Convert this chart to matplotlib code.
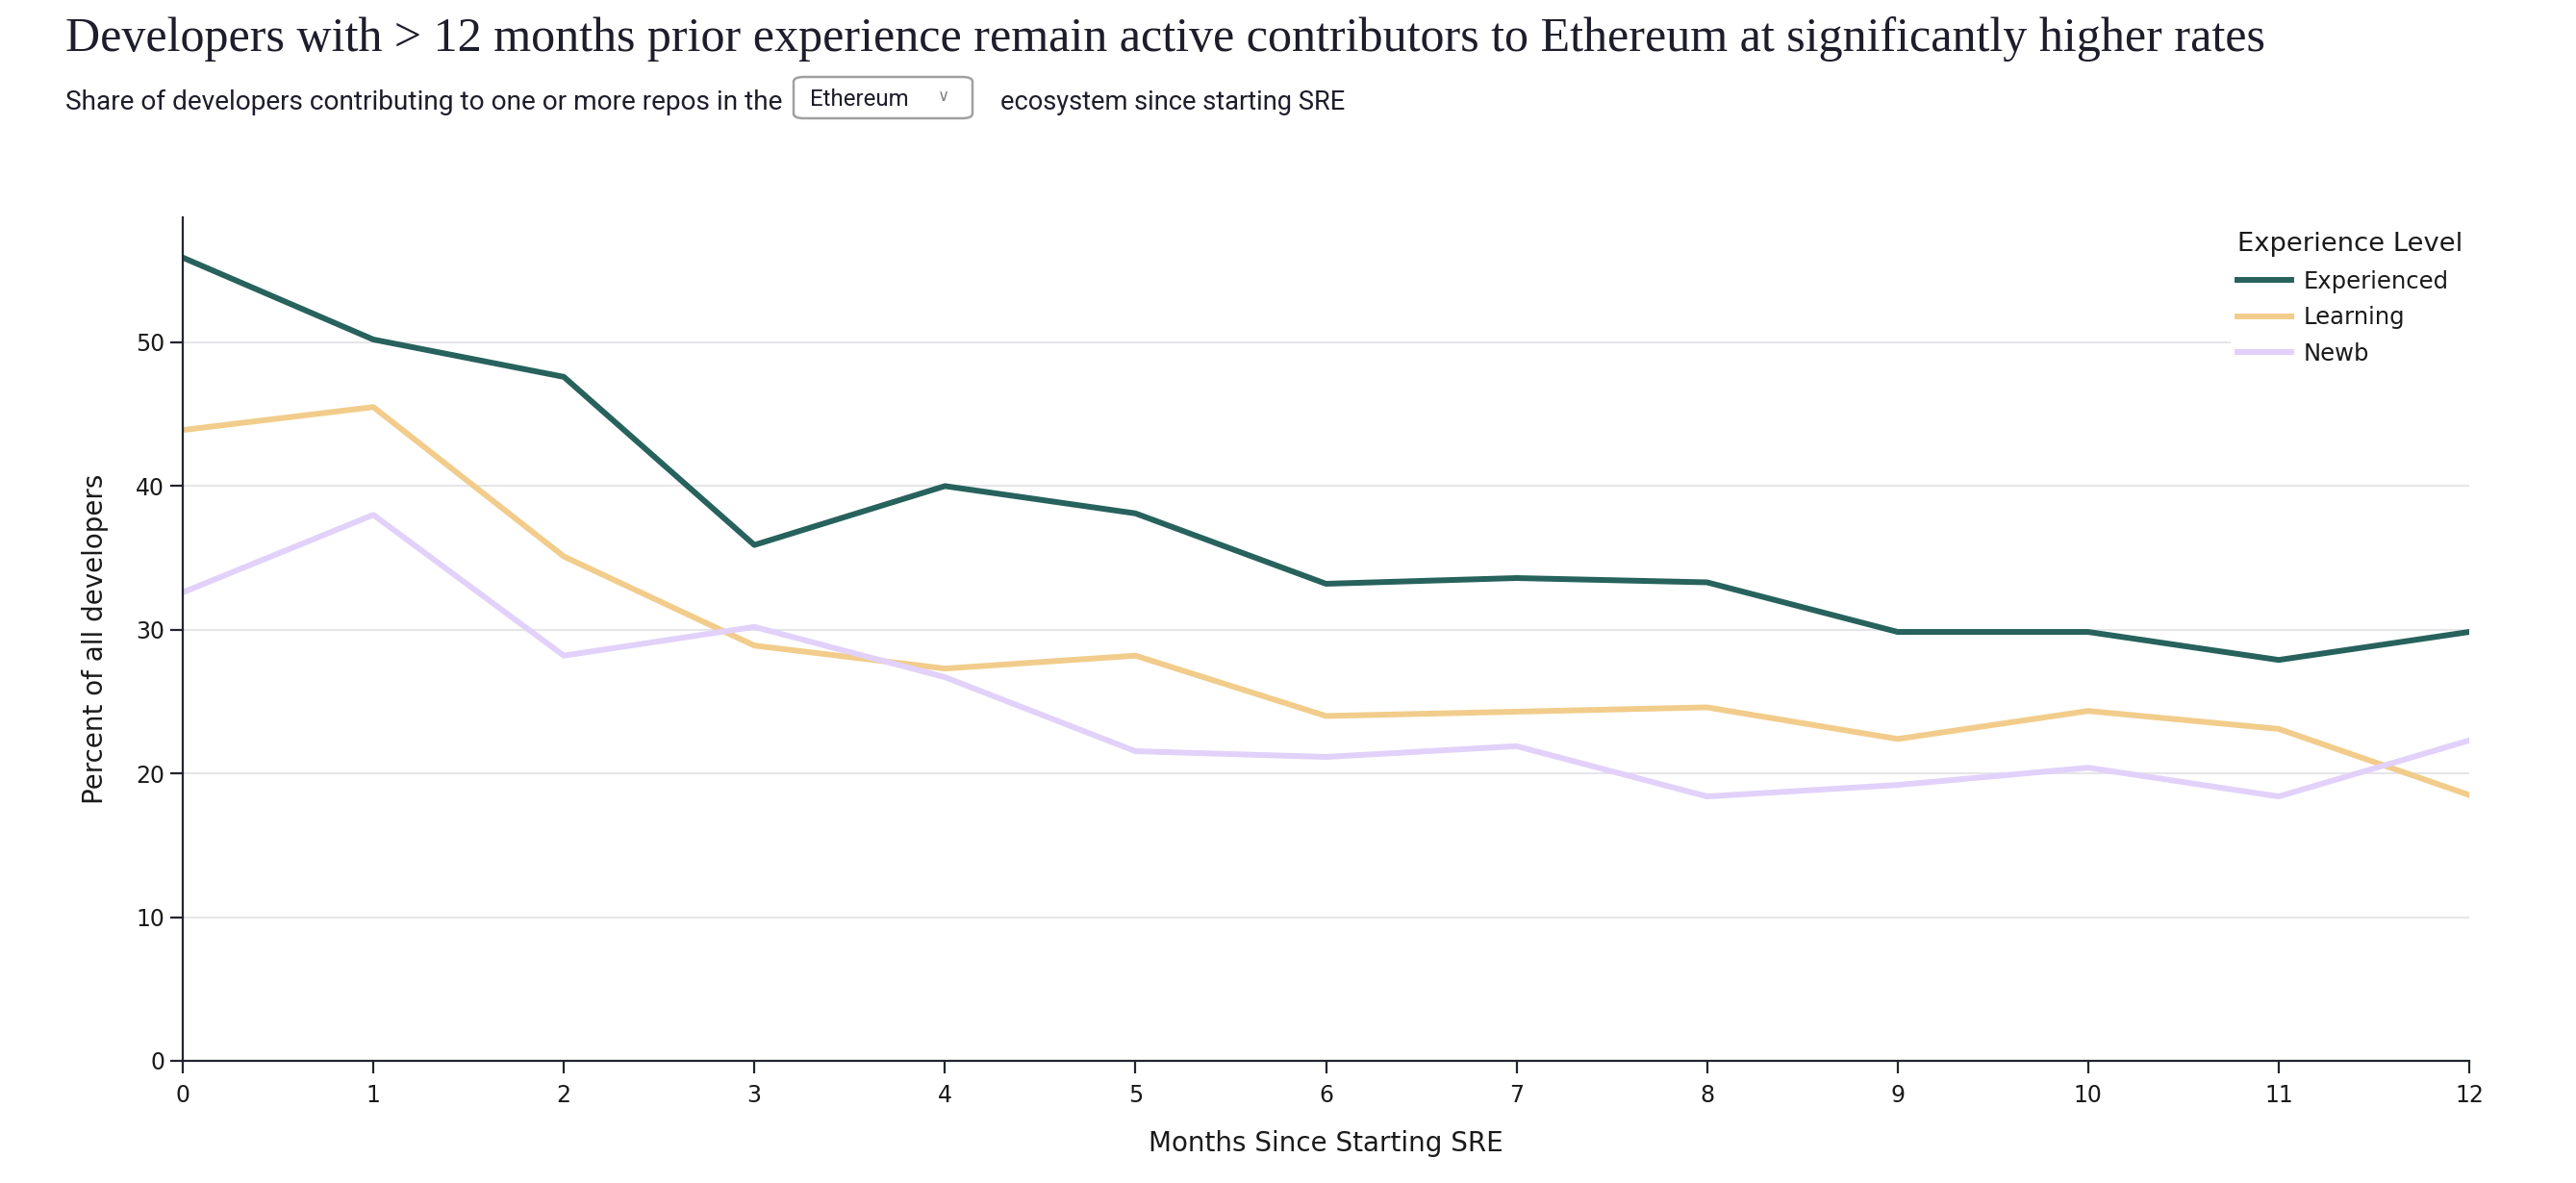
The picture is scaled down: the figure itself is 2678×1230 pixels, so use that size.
import matplotlib.pyplot as plt
from matplotlib.patches import FancyBboxPatch

# months since starting SRE
months = list(range(13))
experienced = [55.9, 50.2, 47.6, 35.9, 40.0, 38.1, 33.2, 33.6, 33.3, 29.85, 29.85, 27.9, 29.85]
learning = [43.9, 45.5, 35.1, 28.9, 27.3, 28.2, 24.0, 24.3, 24.6, 22.4, 24.35, 23.1, 18.5]
newb = [32.6, 38.0, 28.2, 30.2, 26.7, 21.55, 21.15, 21.9, 18.4, 19.2, 20.4, 18.4, 22.3]
series_names = ['Experienced', 'Learning', 'Newb']
colors = ['#27625d', '#f2cc8b', '#e2d1fa']
yticks = [0, 10, 20, 30, 40, 50]

W, H = 2678, 1230
fig = plt.figure(figsize=(W / 100, H / 100), dpi=100)
renderer = fig.canvas.get_renderer()


def fx(px):
    return px / W


def fy(py):
    return 1 - py / H


def fit_width(t, target_px):
    # scale the font so the text spans target_px pixels
    w = t.get_window_extent(renderer).width
    t.set_fontsize(t.get_fontsize() * target_px / w)


ax = fig.add_axes([fx(190), fy(1103), fx(2567) - fx(190), fy(226) - fy(1103)])

for vals, name, c in zip([experienced, learning, newb], series_names, colors):
    ax.plot(months, vals, color=c, lw=4.3, label=name)

ax.set_xlim(0, 12)
ax.set_ylim(0, 58.7)
ax.set_xticks(months)
ax.set_yticks(yticks)
ax.grid(axis='y', color='#e6e6ea', lw=1.5)
ax.set_axisbelow(True)
for s in ['top', 'right']:
    ax.spines[s].set_visible(False)
for s in ['left', 'bottom']:
    ax.spines[s].set_color('#22252f')
    ax.spines[s].set_linewidth(1.6)
ax.tick_params(length=9.5, width=1.6, color='#22252f', labelsize=17,
               labelcolor='#1a1a1a')
ax.tick_params(axis='x', pad=8)
ax.tick_params(axis='y', pad=4)

ax.set_ylabel('Percent of all developers', fontsize=20, color='#1a1a1a', labelpad=20)
ax.set_xlabel('Months Since Starting SRE', fontsize=20, color='#1a1a1a', labelpad=17)

leg = ax.legend(title='Experience Level', loc='upper left',
                bbox_to_anchor=(fx(2307), fy(222)), bbox_transform=fig.transFigure,
                frameon=True, facecolor='white', edgecolor='none', framealpha=1,
                fontsize=17.5, title_fontsize=19.7, handlelength=2.3,
                handletextpad=0.5, labelspacing=0.55, borderpad=0.3,
                alignment='left', fancybox=False)
for t in leg.get_texts():
    t.set_color('#1a1a1a')
leg.get_title().set_color('#1a1a1a')

# title and subtitle
title = fig.text(fx(68), fy(53), 'Developers with > 12 months prior experience remain active '
                 'contributors to Ethereum at significantly higher rates',
                 family=['Liberation Serif', 'DejaVu Serif'], fontsize=36, color='#1d1d2b',
                 va='baseline', ha='left')
fit_width(title, 2291)

sub_font = ['Roboto', 'DejaVu Sans']
s1 = fig.text(fx(68), fy(114), 'Share of developers contributing to one or more repos in the',
              family=sub_font, fontsize=20, color='#1d1d2b', va='baseline', ha='left')
fit_width(s1, 745)
box = FancyBboxPatch((fx(825), fy(123)), fx(1011) - fx(825), fy(80) - fy(123),
                     boxstyle='round,pad=0,rounding_size=0.004',
                     transform=fig.transFigure, facecolor='white',
                     edgecolor='#a0a0a0', lw=1.8)
fig.patches.append(box)
s2 = fig.text(fx(842), fy(110), 'Ethereum', family=sub_font, fontsize=17,
              color='#1d1d2b', va='baseline', ha='left')
fit_width(s2, 103)
fig.text(fx(981), fy(100), '\u2228', family=['DejaVu Sans'], fontsize=12,
         color='#808080', va='center', ha='center')
s3 = fig.text(fx(1040), fy(114), 'ecosystem since starting SRE',
              family=sub_font, fontsize=20, color='#1d1d2b', va='baseline', ha='left')
fit_width(s3, 357)

fig.savefig('out.png', dpi=100, facecolor='white')
